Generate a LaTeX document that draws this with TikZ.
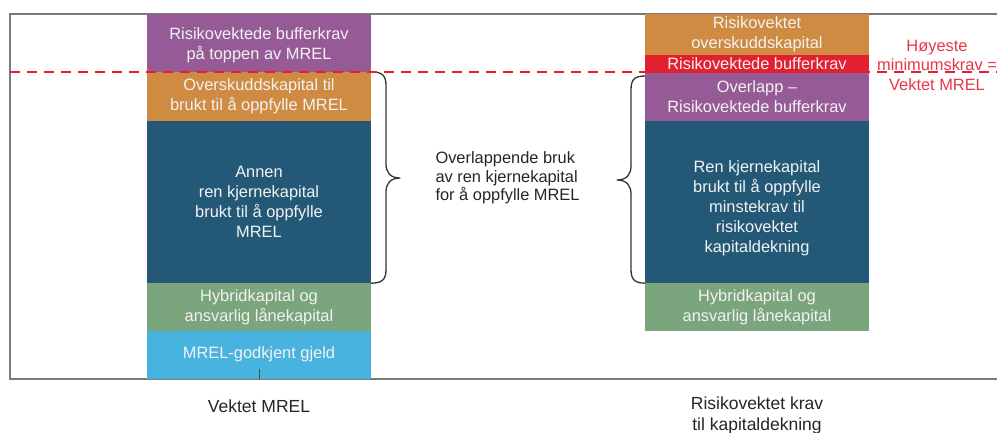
\documentclass[tikz,border=0pt]{standalone}
\usepackage{fontspec}
\setmainfont{Liberation Sans}
\definecolor{cpurple}{HTML}{965B97}
\definecolor{corange}{HTML}{CE8B41}
\definecolor{cred}{HTML}{E2202F}
\definecolor{cblue}{HTML}{235977}
\definecolor{cgreen}{HTML}{7BA57C}
\definecolor{clight}{HTML}{49B3E0}
\definecolor{clabel}{HTML}{E8364A}
\definecolor{cframe}{HTML}{7A7A7A}
\definecolor{ctext}{HTML}{F2F2F2}
\begin{document}
\begin{tikzpicture}[x=1pt,y=-1pt,
  seg/.style={draw=none, inner sep=0pt, minimum width=224pt, text=ctext, align=center,
    font=\fontsize{16.4}{20}\selectfont},
  bracestyle/.style={draw=black!80, line width=1.3pt, line join=round},
  bottomlabel/.style={align=center, text=black!85, font=\fontsize{17.5}{21}\selectfont},
  reddash/.style={draw=cred, line width=2pt, dash pattern=on 10pt off 7pt}]
\fill[white] (0,0) rectangle (997,432);
\useasboundingbox (0,0) rectangle (997,432);
% frame
\coordinate (ftr) at (997,14);
\coordinate (ftl) at (10,14);
\coordinate (fbl) at (10,379);
\coordinate (fbr) at (997,379);
\draw[cframe, line width=1.3pt] (ftr) -- (ftl) -- (fbl) -- (fbr);
% left column
\node[seg, fill=cpurple, minimum height=58pt] (lpurple) at (259,43) {};
\node[seg] (lpurpletext) at (259,45) {Risikovektede bufferkrav\\på toppen av MREL};
\node[seg, fill=corange, minimum height=49pt] (lorange) at (259,96.5) {Overskuddskapital til\\brukt til å oppfylle MREL};
\node[seg, fill=cblue, minimum height=162pt] (lblue) at (259,202) {Annen\\ren kjernekapital\\brukt til å oppfylle\\MREL};
\node[seg, fill=cgreen, minimum height=48pt] (lgreen) at (259,307) {Hybridkapital og\\ansvarlig lånekapital};
\node[seg, fill=clight, minimum height=48pt] (llight) at (259,355) {};
\node[text=ctext, font=\fontsize{16.4}{20}\selectfont] (llighttext) at (259,354) {MREL-godkjent gjeld};
\coordinate (ticktop) at (259,369);
\draw[black!70, line width=1pt] (ticktop) -- (llight.south);
% right column
\node[seg, fill=corange, minimum height=41pt] (rorange) at (757,34.5) {Risikovektet\\overskuddskapital};
\node[seg, fill=cred, minimum height=18pt] (rred) at (757,64) {Risikovektede bufferkrav};
\node[seg, fill=cpurple, minimum height=48pt] (rpurple) at (757,97) {Overlapp –\\Risikovektede bufferkrav};
\node[seg, fill=cblue, minimum height=162pt] (rblue) at (757,202) {};
\node[seg] (rbluetext) at (757,208) {Ren kjernekapital\\brukt til å oppfylle\\minstekrav til\\risikovektet\\kapitaldekning};
\node[seg, fill=cgreen, minimum height=48pt] (rgreen) at (757,307) {Hybridkapital og\\ansvarlig lånekapital};
% braces
\coordinate (lbtip) at (400,178);
\coordinate (rbtip) at (617,180);
\draw[bracestyle] (lorange.north east) .. controls (383,72) and (386,76) .. (386,86) -- (386,164)
  .. controls (386,172) and (390,178) .. (lbtip) .. controls (390,178) and (386,184) .. (386,192)
  -- (386,269) .. controls (386,279) and (383,283) .. (lblue.south east);
\draw[bracestyle] (645,76) .. controls (634,76) and (631,80) .. (631,90) -- (631,166)
  .. controls (631,174) and (627,180) .. (rbtip) .. controls (627,180) and (631,186) .. (631,194)
  -- (631,269) .. controls (631,279) and (634,283) .. (rblue.south west);
\node[anchor=west, align=left, text=black!85, font=\fontsize{16.4}{18.5}\selectfont] (midtext) at (432,178)
  {Overlappende bruk\\av ren kjernekapital\\for å oppfylle MREL};
% red label
\node[align=center, text=clabel, font=\fontsize{16.4}{19.5}\selectfont] (hlabel) at (937,65)
  {Høyeste\\minimumskrav =\\Vektet MREL};
% dashed line
\coordinate (dl) at (10,72);
\coordinate (dr) at (997,72);
\draw[reddash] (dl) -- (dr);
% bottom labels
\node[bottomlabel] (blabel1) at (259,406) {Vektet MREL};
\node[bottomlabel] (blabel2) at (757,415.5) {Risikovektet krav\\til kapitaldekning};
\end{tikzpicture}
\end{document}
